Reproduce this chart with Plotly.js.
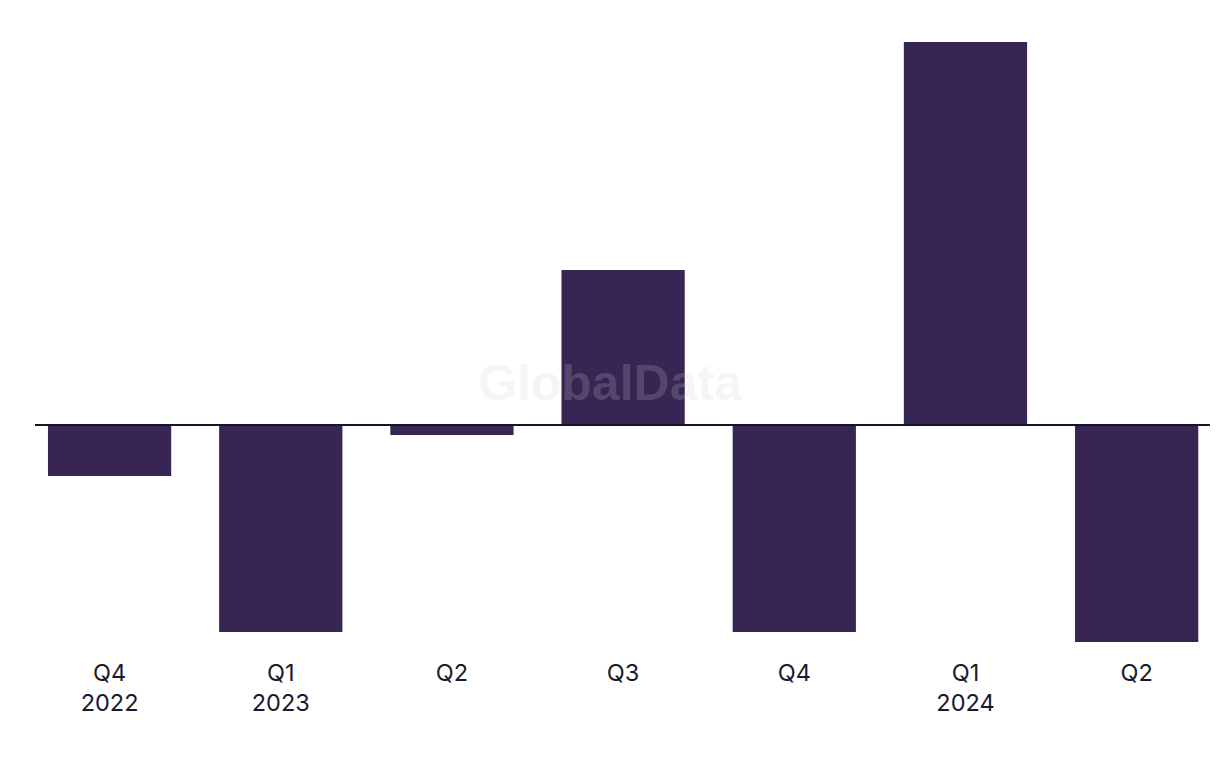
<!DOCTYPE html>
<html>
<head>
<meta charset="utf-8">
<script src="https://cdn.plot.ly/plotly-3.0.1.min.js"></script>
<style>html,body{margin:0;padding:0;background:#fff;}#chart{width:1220px;height:768px;}</style>
</head>
<body>
<div id="chart"></div>
<script>
var categories = ["Q4 2022", "Q1 2023", "Q2 2023", "Q3 2023", "Q4 2023", "Q1 2024", "Q2 2024"];
var tickLabels = ["Q4<br>2022", "Q1<br>2023", "Q2", "Q3", "Q4", "Q1<br>2024", "Q2"];
var values = [-5.1, -20.7, -1.0, 15.5, -20.7, 38.3, -21.7];

var trace = {
  type: "bar",
  x: categories,
  y: values,
  marker: {color: "#372554"},
  hoverinfo: "x+y"
};

var layout = {
  width: 1220,
  height: 768,
  margin: {l: 24, r: 0, t: 25, b: 118},
  paper_bgcolor: "#ffffff",
  plot_bgcolor: "#ffffff",
  bargap: 0.28,
  showlegend: false,
  xaxis: {
    type: "category",
    range: [-0.5, 6.487],
    tickmode: "array",
    tickvals: categories,
    ticktext: tickLabels,
    showgrid: false,
    zeroline: false,
    showline: false,
    ticks: "",
    ticklabelstandoff: 6,
    tickfont: {family: "Inter, 'Liberation Sans', sans-serif", size: 23.5, color: "#1a1a2e"}
  },
  yaxis: {
    range: [-22.5, 40],
    showgrid: false,
    zeroline: false,
    showline: false,
    showticklabels: false,
    ticks: ""
  },
  shapes: [{
    type: "line",
    xref: "paper", yref: "y",
    x0: 0.0092, x1: 0.9916, y0: 0, y1: 0,
    line: {color: "#14142b", width: 2},
    layer: "above"
  }],
  annotations: [{
    text: "GlobalData",
    xref: "paper", yref: "paper",
    x: 0.49, y: 0.427,
    xanchor: "center", yanchor: "middle",
    showarrow: false,
    font: {family: "'Liberation Sans', Arial, sans-serif", size: 50, color: "rgba(205,205,205,0.2)", weight: "bold"}
  }]
};

Plotly.newPlot("chart", [trace], layout, {displayModeBar: false, staticPlot: true});
</script>
</body>
</html>
